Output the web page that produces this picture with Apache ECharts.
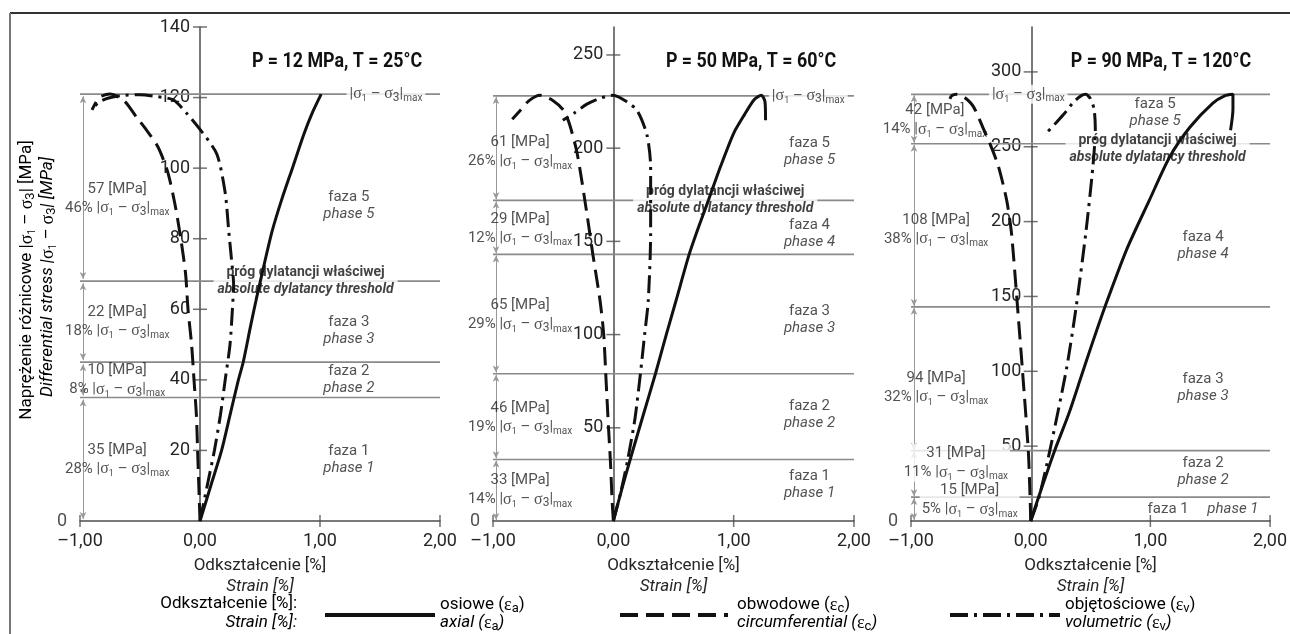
<!DOCTYPE html>
<html><head><meta charset="utf-8">
<script src="https://cdn.jsdelivr.net/npm/echarts@6/dist/echarts.min.js"></script>
<style>html,body{margin:0;padding:0;background:#fff}#c{width:1290px;height:634px}</style>
</head><body><div id="c"></div>
<script>
const FONT = "Roboto,'Liberation Sans',sans-serif";
const SERIF = "'Liberation Serif','DejaVu Serif',serif";

// ---------------- data ----------------
const xTickValues = [-1, 0, 1, 2];
const panelTitles = ['P = 12 MPa, T = 25°C', 'P = 50 MPa, T = 60°C', 'P = 90 MPa, T = 120°C'];
const yMax = [140, 265, 330];
const yStep = [20, 50, 50];
const yTicks1 = [20, 40, 60, 80, 100, 120, 140];
const yTicks2 = [50, 100, 150, 200, 250];
const yTicks3 = [50, 100, 150, 200, 250, 300];

// Panel 1: P = 12 MPa, T = 25°C  ([strain %, stress MPa])
const axial1 = [[0,0],[0.09,10],[0.18,20],[0.25,30],[0.32,40],[0.36,45],[0.42,55],[0.47,63],[0.53,72],[0.60,82],[0.68,91],[0.77,100],[0.87,110],[0.94,116],[1.01,121]];
const circ1 = [[0,0],[-0.01,10],[-0.02,20],[-0.03,30],[-0.05,40],[-0.07,50],[-0.10,60],[-0.12,70],[-0.16,80],[-0.21,90],[-0.27,99],[-0.35,106],[-0.45,111],[-0.53,114.5],[-0.63,119],[-0.75,121],[-0.84,120],[-0.90,116.5]];
const vol1 = [[0,0],[0.06,10],[0.12,20],[0.17,30],[0.21,40],[0.25,50],[0.27,60],[0.28,67],[0.26,75],[0.24,82],[0.21,93],[0.14,104],[0.0,111],[-0.11,115.5],[-0.22,119.3],[-0.36,120.3],[-0.5,120.8],[-0.65,120.6],[-0.77,119.8],[-0.85,118.5],[-0.89,117]];
const levels1 = [35, 45, 68, 121];
const bandMPa1 = [35, 10, 22, 57];
const bandPct1 = [28, 8, 18, 46];
const phaseNo1 = [1, 2, 3, 5];

// Panel 2: P = 50 MPa, T = 60°C
const axial2 = [[0,0],[0.07,17],[0.14,33],[0.24,55],[0.35,79],[0.44,100],[0.52,118],[0.63,143],[0.71,158],[0.79,172],[0.89,190],[1.0,208],[1.09,218],[1.17,226],[1.23,228.4],[1.26,225],[1.265,215]];
const circ2 = [[0,0],[-0.01,11],[-0.025,33],[-0.04,50],[-0.06,75],[-0.08,100],[-0.11,118],[-0.17,143],[-0.22,165],[-0.30,197],[-0.36,212],[-0.41,220],[-0.50,225.5],[-0.61,228.4],[-0.70,225.5],[-0.77,220.5],[-0.84,215.5]];
const vol2 = [[0,0],[0.06,15],[0.12,33],[0.18,55],[0.225,79],[0.26,100],[0.29,118],[0.31,154],[0.31,190],[0.28,207],[0.20,220],[0.11,225],[0.0,228.4],[-0.1,227],[-0.22,223.6],[-0.32,219],[-0.42,215]];
const levels2 = [33, 79, 143, 172, 228];
const bandMPa2 = [33, 46, 65, 29, 61];
const bandPct2 = [14, 19, 29, 12, 26];
const phaseNo2 = [1, 2, 3, 4, 5];

// Panel 3: P = 90 MPa, T = 120°C
const axial3 = [[0,0],[0.1,24],[0.2,47],[0.32,72],[0.42,96],[0.52,120],[0.62,143],[0.8,181],[0.99,214],[1.16,243],[1.33,263],[1.52,279],[1.62,284],[1.69,285],[1.69,275],[1.67,261]];
const circ3 = [[0,0],[-0.005,16],[-0.02,47],[-0.07,102],[-0.11,143],[-0.16,192],[-0.2,214],[-0.27,237],[-0.34,252],[-0.40,263],[-0.48,277],[-0.56,283.4],[-0.62,285],[-0.66,284],[-0.675,282]];
const vol3 = [[0,0],[0.07,16],[0.16,47],[0.30,102],[0.38,143],[0.46,192],[0.52,237],[0.54,262],[0.53,275],[0.50,282],[0.46,285],[0.42,284],[0.36,280],[0.28,272],[0.20,265],[0.13,259]];
const levels3 = [16, 47, 143, 252, 285];
const bandMPa3 = [15, 31, 94, 108, 42];
const bandPct3 = [5, 11, 32, 38, 14];
const phaseNo3 = [1, 2, 3, 4, 5];

const thresholdIndex = [2, 3, 3];

// ---------------- layout ----------------
const panels = [
  {axial: axial1, circ: circ1, vol: vol1, levels: levels1, mpa: bandMPa1, pct: bandPct1, phase: phaseNo1, yTicks: yTicks1,
   left: 80, width: 360, annX: [-0.69, -0.69, -0.69, -0.69], phaseX: 1.24, thrX: 0.88, thrDy: 0, maxX: 1.55, titleX: 337,
   annDy: [0, 0, 0, 11], phaseDy: [0, 0, 9, 18], annBg: [false, false, false, false], phaseXs: null},
  {axial: axial2, circ: circ2, vol: vol2, levels: levels2, mpa: bandMPa2, pct: bandPct2, phase: phaseNo2, yTicks: yTicks2,
   left: 493, width: 361, annX: [-0.775, -0.775, -0.775, -0.775, -0.775], phaseX: 1.63, thrX: 0.93, thrDy: 0, maxX: 1.62, titleX: 751,
   annDy: [0, 1, 1, 1, 4], phaseDy: [-5, -2, 6, 6, 4], annBg: [false, false, false, false, false], phaseXs: null},
  {axial: axial3, circ: circ3, vol: vol3, levels: levels3, mpa: bandMPa3, pct: bandPct3, phase: phaseNo3, yTicks: yTicks3,
   left: 911, width: 361, annX: [-0.51, -0.625, -0.79, -0.79, -0.8], phaseX: 1.44, thrX: 1.06, thrDy: 5, maxX: -0.02, titleX: 1161,
   annDy: [-9, -11, 9, 4, 1], phaseDy: [0, -2, 9, 20, -6], annBg: [true, true, false, false, false], phaseXs: [null, null, null, null, 1.04]}
];

const TXT = '#262626';
const GRAY = '#8a8a8a';
const AXIS = '#4d4d4d';

function richBase(size) {
  return {
    t: {fontFamily: FONT, fontSize: size, color: TXT, lineHeight: size + 4},
    ti: {fontFamily: FONT, fontSize: size, color: TXT, fontStyle: 'italic', lineHeight: size + 4},
    g: {fontFamily: SERIF, fontSize: size + 1, color: TXT, lineHeight: size + 4},
    s1: {fontFamily: FONT, fontSize: Math.round(size * 0.58), color: TXT, verticalAlign: 'bottom', lineHeight: Math.round(size * 0.58) + 1},
    s3: {fontFamily: FONT, fontSize: Math.round(size * 0.78), color: TXT, verticalAlign: 'bottom', lineHeight: Math.round(size * 0.78) + 1},
    sm: {fontFamily: FONT, fontSize: Math.round(size * 0.68), color: TXT, verticalAlign: 'bottom', lineHeight: Math.round(size * 0.68) + 1}
  };
}
const SIG = '{t||}{g|σ}{s1|1}{t| – }{g|σ}{s3|3}{t||}{sm|max}';

const grids = [], xAxes = [], yAxes = [], series = [];
panels.forEach((p, i) => {
  grids.push({left: p.left, width: p.width, top: 27, height: 494});
  xAxes.push({
    type: 'value', gridIndex: i, min: -1, max: 2, interval: 1,
    axisLine: {onZero: false, lineStyle: {color: AXIS, width: 1.5}},
    axisTick: {show: false}, splitLine: {show: false},
    axisLabel: {fontFamily: FONT, fontSize: 18, color: TXT, margin: 11,
      formatter: v => (v < 0 ? '–' : '') + Math.abs(v).toFixed(2).replace('.', ',')},
    name: '{t|Odkształcenie [%]}\n{ti|Strain [%]}', nameLocation: 'middle', nameGap: 34,
    nameTextStyle: {rich: {t: {fontFamily: FONT, fontSize: 17, color: TXT, lineHeight: 21}, ti: {fontFamily: FONT, fontSize: 17, color: TXT, fontStyle: 'italic', lineHeight: 21}}}
  });
  yAxes.push({
    type: 'value', gridIndex: i, min: 0, max: yMax[i], interval: yStep[i],
    offset: -p.width / 3,
    axisLine: {onZero: false, lineStyle: {color: AXIS, width: 1.5}},
    axisTick: {show: false}, splitLine: {show: false},
    axisLabel: {fontFamily: FONT, fontSize: 18, color: TXT, margin: 10,
      formatter: v => (v === 0 || v % yStep[i] !== 0) ? '' : String(v)}
  });
  const base = {xAxisIndex: i, yAxisIndex: i, animation: false, silent: true};
  // phase boundary lines
  p.levels.forEach(v => {
    series.push(Object.assign({}, base, {type: 'line', z: 1, symbol: 'none', data: [[-1, v], [2, v]],
      lineStyle: {color: GRAY, width: 1.7}}));
  });
  // arrows
  const bounds = [0].concat(p.levels);
  const arrowData = [];
  for (let k = 0; k < p.levels.length; k++) {
    arrowData.push([{coord: [-0.975, bounds[k] + 0.6]}, {coord: [-0.975, bounds[k + 1] - 0.6]}]);
  }
  series.push(Object.assign({}, base, {type: 'line', z: 1, symbol: 'none', data: [],
    markLine: {z: 1, silent: true, symbol: ['arrow', 'arrow'], symbolSize: [5, 7], animation: false,
      label: {show: false}, lineStyle: {color: '#999', width: 1, type: 'solid'}, data: arrowData}}));
  // tick marks
  series.push(Object.assign({}, base, {type: 'scatter', z: 2, symbol: 'rect', symbolSize: [14, 1.5],
    itemStyle: {color: AXIS}, data: p.yTicks.map(v => [0, v])}));
  series.push(Object.assign({}, base, {type: 'scatter', z: 2, symbol: 'rect', symbolSize: [1.5, 12],
    itemStyle: {color: AXIS}, data: xTickValues.filter(v => v !== 0).map(v => [v, 0])}));
  // annotations
  const ann = [];
  for (let k = 0; k < p.levels.length; k++) {
    const mid = (bounds[k] + bounds[k + 1]) / 2;
    ann.push({value: [p.annX[k], mid], label: {
      formatter: '{t|' + p.mpa[k] + ' [MPa]}\n{t|' + p.pct[k] + '% }' + SIG,
      offset: [0, p.annDy[k]],
      backgroundColor: p.annBg[k] ? '#fff' : 'transparent', padding: p.annBg[k] ? [0, 2] : 0}});
    const px = (p.phaseXs && p.phaseXs[k] != null) ? p.phaseXs[k] : p.phaseX;
    const single = (i === 2 && k === 0);
    ann.push({value: [px, mid], label: {
      formatter: single ? '{f|faza ' + p.phase[k] + '     }{fi|phase ' + p.phase[k] + '}'
                        : '{f|faza ' + p.phase[k] + '}\n{fi|phase ' + p.phase[k] + '}',
      offset: [0, p.phaseDy[k]]}});
  }
  const thr = p.levels[thresholdIndex[i]];
  ann.push({value: [p.thrX, thr], label: {
    formatter: '{b|próg dylatancji właściwej}\n{bi|absolute dylatancy threshold}',
    offset: [0, p.thrDy], backgroundColor: '#fff', padding: [0, 4]}});
  const mx = p.levels[p.levels.length - 1];
  ann.push({value: [p.maxX, mx], label: {formatter: SIG, backgroundColor: '#fff', padding: [0, 3]}});
  ann.push({value: [-1, 0], label: {formatter: '{z|0}', offset: [-18, 0]}});
  series.push(Object.assign({}, base, {type: 'scatter', z: 3, symbolSize: 1, itemStyle: {color: 'rgba(0,0,0,0)'},
    label: {show: true, position: 'inside', align: 'center', verticalAlign: 'middle', rich: Object.assign(richBase(15), {
      f: {fontFamily: FONT, fontSize: 15, color: TXT, lineHeight: 17},
      fi: {fontFamily: FONT, fontSize: 15, color: TXT, fontStyle: 'italic', lineHeight: 17},
      b: {fontFamily: FONT, fontSize: 14, color: '#111', fontWeight: 'bold', lineHeight: 17},
      bi: {fontFamily: FONT, fontSize: 14, color: '#111', fontWeight: 'bold', fontStyle: 'italic', lineHeight: 17},
      z: {fontFamily: FONT, fontSize: 18, color: TXT}
    })},
    data: ann}));
  // curves
  series.push(Object.assign({}, base, {type: 'line', z: 4, name: 'axial', symbol: 'none', smooth: 0.25,
    data: p.axial, lineStyle: {color: '#111', width: 3, type: 'solid'}}));
  series.push(Object.assign({}, base, {type: 'line', z: 4, name: 'circumferential', symbol: 'none', smooth: 0.25,
    data: p.circ, lineStyle: {color: '#111', width: 3, type: [18, 8]}}));
  series.push(Object.assign({}, base, {type: 'line', z: 4, name: 'volumetric', symbol: 'none', smooth: 0.25,
    data: p.vol, lineStyle: {color: '#111', width: 3, type: [18, 6, 3, 6]}}));
});

const rich = richBase(17);
const graphic = [
  {type: 'line', shape: {x1: 10, y1: 13, x2: 1290, y2: 13}, style: {stroke: '#333', lineWidth: 2}},
  {type: 'line', shape: {x1: 10, y1: 13, x2: 10, y2: 634}, style: {stroke: '#777', lineWidth: 2}},
  {type: 'text', x: 27, y: 280, rotation: Math.PI / 2, style: {text: '{t|Naprężenie różnicowe }' + '{t||}{g|σ}{s1|1}{t| – }{g|σ}{s3|3}{t|| [MPa]}', rich: rich, align: 'center', verticalAlign: 'middle'}},
  {type: 'text', x: 48, y: 277, rotation: Math.PI / 2, style: {text: '{ti|Differential stress |}{g|σ}{s1|1}{ti| – }{g|σ}{s3|3}{ti|| [MPa]}', rich: rich, align: 'center', verticalAlign: 'middle'}},
  // legend
  {type: 'text', x: 297, y: 604, style: {text: '{t|Odkształcenie [%]:}', rich: rich, align: 'right', verticalAlign: 'middle'}},
  {type: 'text', x: 297, y: 623, style: {text: '{ti|Strain [%]:}', rich: rich, align: 'right', verticalAlign: 'middle'}},
  {type: 'line', shape: {x1: 325, y1: 615, x2: 435, y2: 615}, style: {stroke: '#111', lineWidth: 4}},
  {type: 'text', x: 440, y: 605, style: {text: '{t|osiowe (}{g|ε}{s3|a}{t|)}', rich: rich, align: 'left', verticalAlign: 'middle'}},
  {type: 'text', x: 440, y: 623, style: {text: '{ti|axial (}{g|ε}{s3|a}{ti|)}', rich: rich, align: 'left', verticalAlign: 'middle'}},
  {type: 'line', shape: {x1: 620, y1: 615, x2: 728, y2: 615}, style: {stroke: '#111', lineWidth: 4, lineDash: [18, 8]}},
  {type: 'text', x: 737, y: 605, style: {text: '{t|obwodowe (}{g|ε}{s3|c}{t|)}', rich: rich, align: 'left', verticalAlign: 'middle'}},
  {type: 'text', x: 737, y: 623, style: {text: '{ti|circumferential (}{g|ε}{s3|c}{ti|)}', rich: rich, align: 'left', verticalAlign: 'middle'}},
  {type: 'line', shape: {x1: 950, y1: 615, x2: 1060, y2: 615}, style: {stroke: '#111', lineWidth: 4, lineDash: [18, 6, 3, 6]}},
  {type: 'text', x: 1065, y: 605, style: {text: '{t|objętościowe (}{g|ε}{s3|v}{t|)}', rich: rich, align: 'left', verticalAlign: 'middle'}},
  {type: 'text', x: 1065, y: 623, style: {text: '{ti|volumetric (}{g|ε}{s3|v}{ti|)}', rich: rich, align: 'left', verticalAlign: 'middle'}}
];
panels.forEach((p, i) => {
  graphic.push({type: 'text', x: p.titleX, y: 62, scaleX: 0.85, style: {text: panelTitles[i], fontFamily: FONT, fontSize: 21, fontWeight: 'bold', fill: '#111', align: 'center', verticalAlign: 'middle'}});
});

const chart = echarts.init(document.getElementById('c'), null, {renderer: 'canvas'});
chart.setOption({
  animation: false,
  backgroundColor: '#fff',
  grid: grids, xAxis: xAxes, yAxis: yAxes, series: series, graphic: graphic
});
</script></body></html>
